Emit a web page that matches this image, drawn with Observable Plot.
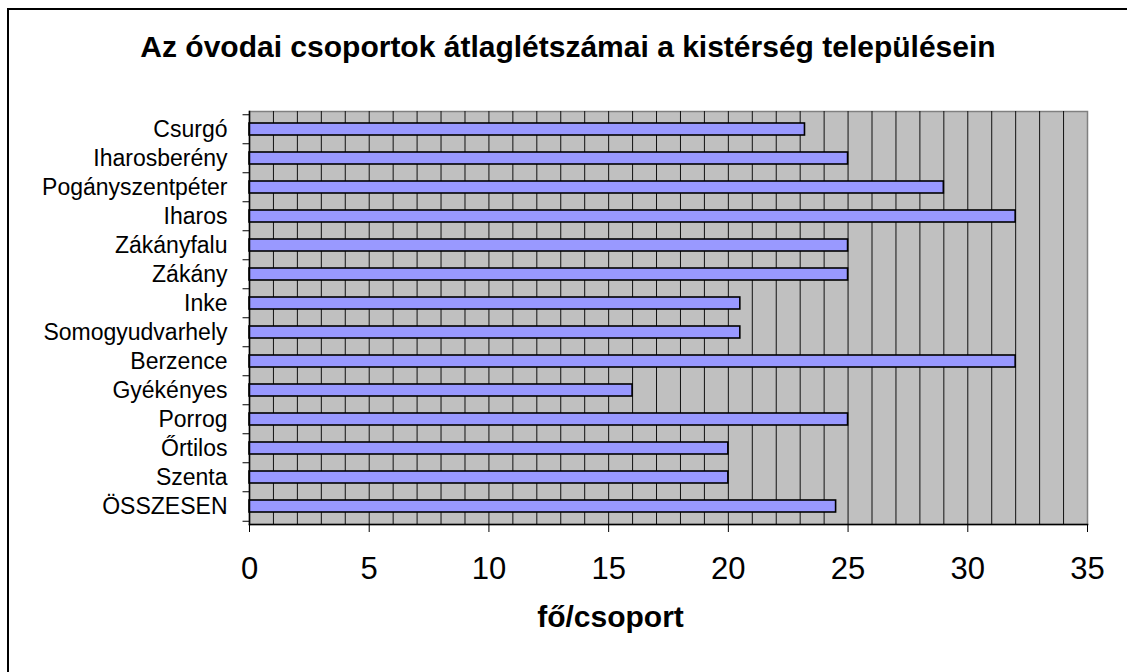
<!DOCTYPE html>
<html>
<head>
<meta charset="utf-8">
<script src="https://cdn.jsdelivr.net/npm/d3@7"></script>
<script src="https://cdn.jsdelivr.net/npm/@observablehq/plot@0.6"></script>
<style>
  html, body { margin: 0; padding: 0; background: #fff; overflow: hidden; }
  #wrap { position: relative; width: 1127px; height: 672px; overflow: hidden; font-family: "Liberation Sans", Arial, sans-serif; }
  #border { position: absolute; left: 7px; top: 8px; width: 1300px; height: 900px; border: 2px solid #000; box-sizing: border-box; }
  #title { position: absolute; left: 0; width: 1136px; top: 30px; text-align: center; font-weight: bold; font-size: 30px; line-height: 34px; color: #000; }
  #chart { position: absolute; left: 0; top: 0; }
</style>
</head>
<body>
<div id="wrap">
  <div id="border"></div>
  <div id="chart"></div>
  <div id="title"></div>
</div>
<script>
const chartTitle = "Az óvodai csoportok átlaglétszámai a kistérség településein";
const xLabel = "fő/csoport";
const categories = ["Csurgó","Iharosberény","Pogányszentpéter","Iharos","Zákányfalu","Zákány","Inke","Somogyudvarhely","Berzence","Gyékényes","Porrog","Őrtilos","Szenta","ÖSSZESEN"];
const values = [23.2, 25, 29, 32, 25, 25, 20.5, 20.5, 32, 16, 25, 20, 20, 24.5];
const xTicks = [0, 5, 10, 15, 20, 25, 30, 35];
const gridValues = d3.range(1, 35);

document.getElementById("title").textContent = chartTitle;

const data = categories.map((c, i) => ({name: c, value: values[i]}));

const W = 1127, H = 672;
const mTop = 111, mBottom = 148, mLeft = 249, mRight = 40;
const step = (H - mTop - mBottom) / categories.length;
const pad = 0.6;

const chart = Plot.plot({
  width: W,
  height: H,
  marginTop: mTop,
  marginBottom: mBottom,
  marginLeft: mLeft,
  marginRight: mRight,
  style: {fontFamily: '"Liberation Sans", Arial, sans-serif', background: "transparent", color: "#000", overflow: "visible"},
  x: {domain: [0, 35]},
  y: {domain: categories, paddingInner: pad, paddingOuter: pad / 2},
  marks: [
    Plot.frame({fill: "#C0C0C0", stroke: "#808080", strokeWidth: 1.5}),
    Plot.ruleX(gridValues, {stroke: "#111", strokeWidth: 1}),
    Plot.barX(data, {x: "value", y: "name", fill: "#9999FF", stroke: "#000", strokeWidth: 1.6}),
    Plot.ruleY(categories, {y: d => d, x1: -0.27, x2: 0, stroke: "#000", strokeWidth: 1, dy: -step / 2}),
    Plot.ruleY(categories.slice(-1), {y: d => d, x1: -0.27, x2: 0, stroke: "#000", strokeWidth: 1, dy: step / 2}),
    Plot.frame({anchor: "left", stroke: "#000", strokeWidth: 1.5}),
    Plot.frame({anchor: "bottom", stroke: "#000", strokeWidth: 1.5}),
    Plot.axisX(xTicks, {tickSize: 8, tickPadding: 24, fontSize: 31, label: null, stroke: "#000"}),
    Plot.axisY({tickSize: 0, tickPadding: 22, fontSize: 23, label: null}),
    Plot.text([xLabel], {frameAnchor: "bottom", dx: -58, dy: 102, fontSize: 30, fontWeight: "bold", fill: "#000"})
  ]
});
document.getElementById("chart").appendChild(chart);
</script>
</body>
</html>
